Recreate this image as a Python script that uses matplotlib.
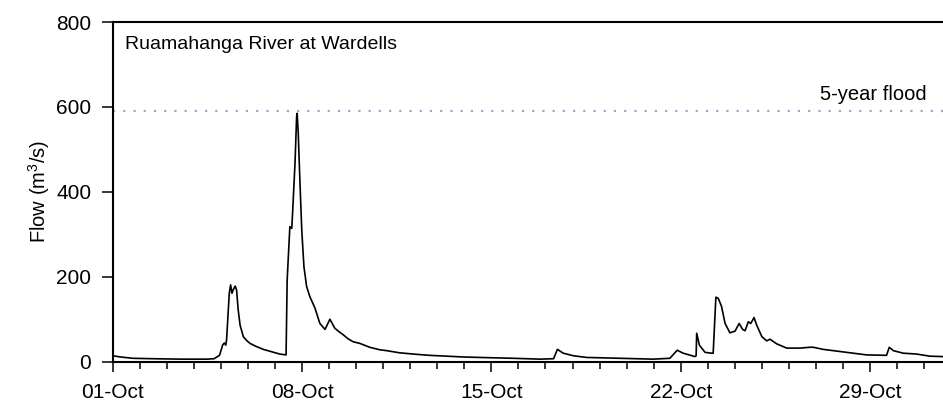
import matplotlib
matplotlib.use('Agg')
import matplotlib.pyplot as plt
import matplotlib.dates as mdates
import pandas as pd

# flow record, days since 01-Oct and flow in m3/s
days = [0.0, 0.3, 0.75, 1.5, 2.5, 3.5, 3.75, 3.95, 4.07, 4.13, 4.18, 4.21,
        4.31, 4.36, 4.41, 4.46, 4.53, 4.58, 4.64, 4.71, 4.83, 4.95, 5.08,
        5.3, 5.57, 5.9, 6.18, 6.41, 6.45, 6.55, 6.62, 6.65, 6.74, 6.80,
        6.82, 6.86, 6.92, 6.99, 7.07, 7.17, 7.29, 7.48, 7.66, 7.85, 8.03,
        8.21, 8.34, 8.53, 8.7, 8.89, 9.14, 9.5, 9.88, 10.13, 10.6, 11.11,
        11.7, 12.35, 13.0, 13.58, 14.81, 15.80, 16.30, 16.44, 16.66, 17.03,
        17.52, 18.76, 19.99, 20.60, 20.87, 21.09, 21.53, 21.57, 21.59,
        21.69, 21.90, 22.14, 22.20, 22.30, 22.39, 22.51, 22.64, 22.82,
        23.01, 23.16, 23.29, 23.38, 23.50, 23.59, 23.71, 23.81, 24.00,
        24.18, 24.30, 24.55, 24.92, 25.41, 25.78, 25.90, 26.27, 26.89,
        27.87, 28.61, 28.71, 28.86, 29.23, 29.72, 30.21, 30.68, 31.0]
flow = [14, 11, 8, 7, 6, 6, 7, 15, 40, 44, 39, 51,
        161, 181, 161, 170, 178, 169, 122, 86, 59, 50, 43,
        36, 29, 23, 18, 16, 192, 318, 314, 349, 467, 577,
        585, 538, 428, 310, 224, 177, 153, 126, 90, 76, 100,
        79, 72, 63, 54, 47, 43, 34, 28, 26, 21, 18,
        15, 13, 11, 10, 8, 6, 7, 29, 20, 14,
        10, 8, 6, 8, 27, 20, 12, 14, 67,
        39, 22, 20, 20, 152, 149, 130, 90, 68,
        72, 90, 76, 73, 94, 90, 104, 86, 59,
        49, 53, 42, 32, 32, 34, 34, 29, 24,
        16, 15, 34, 26, 20, 18, 13, 12, 11]
week_ticks = [0, 7, 14, 21, 28]
flood_5yr = 590
site = 'Ruamahanga River at Wardells'

start = pd.Timestamp('2017-10-01')
t = start + pd.to_timedelta(days, unit='D')

plt.rcParams['font.family'] = ['Liberation Sans', 'DejaVu Sans']
plt.rcParams['mathtext.fontset'] = 'custom'
plt.rcParams['mathtext.rm'] = 'Liberation Sans'
plt.rcParams['mathtext.default'] = 'regular'

fig = plt.figure(figsize=(9.43, 4.12), dpi=100)
# axes runs past the right edge of the figure, like the cropped original
ax = fig.add_axes([0.1195, 0.1221, 0.8892, 0.8245])

ax.axhline(flood_5yr, color='#a3a3cc', lw=1.6, ls=(0, (1, 3.6)))
ax.plot(t, flow, color='black', lw=1.2)

ax.set_xlim(start, start + pd.Timedelta(days=31))
ax.set_ylim(0, 800)
ax.set_yticks([0, 200, 400, 600, 800])

ax.set_xticks(start + pd.to_timedelta(week_ticks, unit='D'))
ax.xaxis.set_minor_locator(mdates.DayLocator())
ax.xaxis.set_major_formatter(mdates.DateFormatter('%d-%b'))

for s in ax.spines.values():
    s.set_linewidth(1.5)
ax.tick_params(axis='y', length=8, width=1.1, labelsize=15, pad=7.5)
ax.tick_params(axis='x', which='major', length=7.5, width=1.1, labelsize=15, pad=8)
ax.tick_params(axis='x', which='minor', length=5, width=1.1)

ax.set_ylabel('Flow (m$^3$/s)', fontsize=14.5, labelpad=3)

ax.text(0.0147, 0.92, site, transform=ax.transAxes, fontsize=14, va='baseline')
ax.text(start + pd.Timedelta(days=30.1), 617, '5-year flood', fontsize=14.5,
        ha='right', va='baseline')

fig.savefig('out.png', dpi=100)
